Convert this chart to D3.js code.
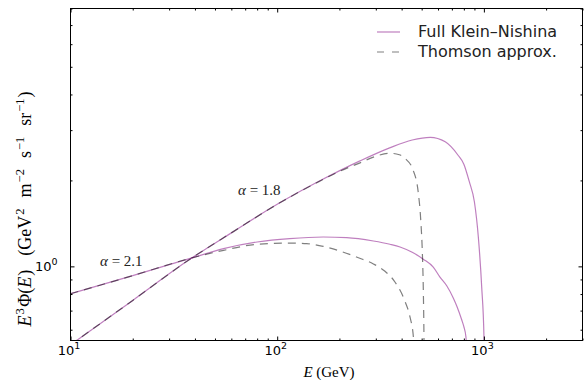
<!DOCTYPE html>
<html>
<head>
<meta charset="utf-8">
<script src="https://cdn.jsdelivr.net/npm/d3@7"></script>
<style>
body { margin: 0; background: #fff; }
svg { display: block; }
</style>
</head>
<body>
<div id="chart"></div>
<script>
// values: energy in GeV, E^3 Phi(E)
var kn18E = [10, 20, 38.7, 60, 100, 160, 250, 350, 450, 550, 650, 750, 800, 850, 900, 940, 976, 1001, 1004];
var kn18V = [0.531, 0.760, 1.071, 1.310, 1.649, 1.989, 2.336, 2.601, 2.770, 2.829, 2.73, 2.45, 2.28, 1.98, 1.68, 1.267, 0.846, 0.565, 0.4];
var th18E = [10, 20, 38.7, 60, 100, 160, 200, 250, 300, 350, 390, 415, 455, 482, 495, 504, 509, 513, 515];
var th18V = [0.531, 0.760, 1.071, 1.310, 1.649, 1.985, 2.15, 2.30, 2.43, 2.49, 2.46, 2.39, 2.17, 1.80, 1.45, 1.108, 0.846, 0.565, 0.4];
var kn21E = [10, 20, 38.7, 55, 80, 115, 167, 217, 292, 351, 393, 450, 509, 569, 613, 661, 711, 740, 781, 800, 819, 826];
var kn21V = [0.802, 0.928, 1.071, 1.154, 1.217, 1.251, 1.267, 1.261, 1.227, 1.195, 1.169, 1.12, 1.06, 0.994, 0.917, 0.855, 0.775, 0.725, 0.65, 0.615, 0.565, 0.5];
var th21E = [10, 20, 38.7, 55, 80, 115, 139, 167, 201, 242, 292, 330, 372, 415, 439, 456, 461];
var th21V = [0.802, 0.928, 1.071, 1.138, 1.195, 1.207, 1.201, 1.175, 1.132, 1.078, 1.02, 0.965, 0.88, 0.755, 0.665, 0.565, 0.45];

var xMajor = [10, 100, 1000];
var xMinor = [20, 30, 40, 50, 60, 70, 80, 90, 200, 300, 400, 500, 600, 700, 800, 900, 2000, 3000];
var yMajor = [1];
var yMinor = [0.6, 0.7, 0.8, 0.9, 2, 3, 4, 5, 6, 7, 8];
var xTickLabels = ["1", "2", "3"];   // exponents of 10
var yTickLabels = ["0"];
var legendLabels = ["Full Klein\u2013Nishina", "Thomson approx."];
var curveLabels = ["2.1", "1.8"];

var W = 584, H = 380;
var pl = 70.5, pr = 582.5, pt = 8.5, pb = 340.5;   // plot box

var svg = d3.select('#chart').append('svg')
        .attr('width', W)
        .attr('height', H);

var x = d3.scaleLog().domain([10, 3000]).range([pl, pr]);
var y = d3.scaleLog().domain([0.55, 8]).range([pb, pt]);

var purple = 'rgba(128,0,128,0.5)';
var grey = 'rgba(0,0,0,0.5)';

svg.append('clipPath').attr('id', 'clip')
    .append('rect')
    .attr('x', pl).attr('y', pt)
    .attr('width', pr - pl).attr('height', pb - pt);

var line = d3.line()
        .x(d => x(d[0]))
        .y(d => y(d[1]))
        .curve(d3.curveMonotoneX);

var series = [
    {pts: d3.zip(kn18E, kn18V), dashed: false},
    {pts: d3.zip(kn21E, kn21V), dashed: false},
    {pts: d3.zip(th18E, th18V), dashed: true},
    {pts: d3.zip(th21E, th21V), dashed: true}
];

svg.append('g').attr('clip-path', 'url(#clip)')
    .selectAll('path')
    .data(series)
    .enter()
    .append('path')
    .attr('d', d => line(d.pts))
    .attr('fill', 'none')
    .attr('stroke', d => d.dashed ? grey : purple)
    .attr('stroke-width', 1.2)
    .attr('stroke-dasharray', d => d.dashed ? '8,6' : null);

// ticks on all four sides, pointing in
function ticks(axis, vals, size) {
    return axis.tickValues(vals).tickSizeInner(-size).tickSizeOuter(0).tickFormat('');
}
var axes = [
    [d3.axisBottom, x, 'translate(0,' + pb + ')'],
    [d3.axisTop, x, 'translate(0,' + pt + ')'],
    [d3.axisLeft, y, 'translate(' + pl + ',0)'],
    [d3.axisRight, y, 'translate(' + pr + ',0)']
];
axes.forEach(function(a) {
    var isX = a[1] === x;
    [[isX ? xMajor : yMajor, 4], [isX ? xMinor : yMinor, 2]].forEach(function(t) {
        var g = svg.append('g').attr('transform', a[2])
                .call(ticks(a[0](a[1]), t[0], t[1]));
        g.select('.domain').remove();
        g.selectAll('text').remove();
        g.selectAll('line').attr('stroke', '#000');
    });
});

svg.append('rect')
    .attr('x', pl).attr('y', pt)
    .attr('width', pr - pl).attr('height', pb - pt)
    .attr('fill', 'none')
    .attr('stroke', '#000')
    .attr('stroke-width', 1);

// tick labels 10^n
var xl = svg.selectAll('.xlab')
        .data(xMajor)
        .enter()
        .append('text')
        .attr('class', 'xlab')
        .attr('x', d => x(d) - 1.5)
        .attr('y', 355)
        .attr('text-anchor', 'middle')
        .style('font-family', 'DejaVu Sans')
        .style('font-size', '13px')
        .style('fill', '#000');
xl.append('tspan').text('10');
xl.append('tspan').attr('dy', -6).style('font-size', '9.5px').text((d, i) => xTickLabels[i]);

var yl = svg.selectAll('.ylab')
        .data(yMajor)
        .enter()
        .append('text')
        .attr('x', pl - 13)
        .attr('y', d => y(d) + 5)
        .attr('text-anchor', 'end')
        .style('font-family', 'DejaVu Sans')
        .style('font-size', '13px');
yl.append('tspan').text('10');
yl.append('tspan').attr('dy', -6).style('font-size', '9.5px').text((d, i) => yTickLabels[i]);

// axis titles
var serif = 'Liberation Serif';
var xt = svg.append('text')
        .attr('x', 329)
        .attr('y', 377)
        .attr('text-anchor', 'middle')
        .style('font-family', serif)
        .style('font-size', '15px');
xt.append('tspan').style('font-style', 'italic').text('E');
xt.append('tspan').text(' (GeV)');

var yt = svg.append('text')
        .attr('transform', 'translate(31,209) rotate(-90)')
        .attr('text-anchor', 'middle')
        .style('font-family', serif)
        .style('font-size', '18px');
// [text, style, extra gap before it in px]
var parts = [
    ['E', 'i', 0], ['3', 's', 1], ['\u03a6(', '', 1.5], ['E', 'i', 0], [')', '', 1],
    ['(GeV', '', 14], ['2', 's', 1], ['m', '', 11], ['\u22122', 's', 1], ['s', '', 11],
    ['\u22121', 's', 1], ['sr', '', 11], ['\u22121', 's', 1], [')', '', 1]
];
var prevSup = false;
parts.forEach(function(p) {
    var t = yt.append('tspan').text(p[0]);
    if (p[2]) t.attr('dx', p[2]);
    if (p[1] === 'i') t.style('font-style', 'italic');
    if (p[1] === 's') {
        t.style('font-size', '12.5px').attr('dy', prevSup ? 0 : -7.5);
        prevSup = true;
    } else {
        if (prevSup) t.attr('dy', 7.5);
        prevSup = false;
    }
});

// curve labels
var cl = svg.selectAll('.clab')
        .data([[100, 266], [238, 195]])
        .enter()
        .append('text')
        .attr('x', d => d[0])
        .attr('y', d => d[1])
        .style('font-family', serif)
        .style('font-size', '15px')
        .style('fill', '#222');
cl.append('tspan').style('font-style', 'italic').text('\u03b1');
cl.append('tspan').text((d, i) => ' = ' + curveLabels[i]);

// legend
var leg = svg.selectAll('.leg')
        .data(legendLabels)
        .enter()
        .append('g')
        .attr('transform', (d, i) => 'translate(377,' + (32 + 20 * i) + ')');
leg.append('line')
    .attr('x1', 0).attr('x2', 23)
    .attr('stroke', (d, i) => i ? grey : purple)
    .attr('stroke-width', 1.2)
    .attr('stroke-dasharray', (d, i) => i ? '7,8' : null);
leg.append('text')
    .attr('x', 41)
    .attr('y', 5)
    .style('font-family', 'DejaVu Sans')
    .style('font-size', '16px')
    .style('fill', '#222')
    .text(d => d);
</script>
</body>
</html>
